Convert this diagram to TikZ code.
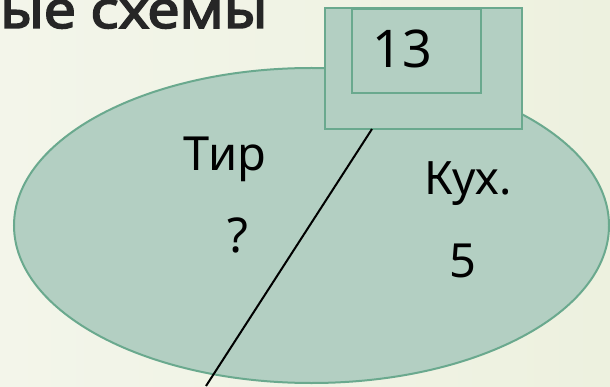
\documentclass[tikz,border=0pt]{standalone}
\usepackage{fontspec}
\usetikzlibrary{shapes.geometric}
\setmainfont{Noto Sans}
\newfontfamily\titlefont{Noto Sans}[FakeBold=3, FakeStretch=1.11]
\definecolor{bgA}{HTML}{F3F5EA}
\definecolor{bgB}{HTML}{EDF1DF}
\definecolor{shapefill}{HTML}{B3CFC2}
\definecolor{shapeline}{HTML}{6AA98E}
\definecolor{titlecol}{HTML}{262626}
\tikzset{
  shapestyle/.style={fill=shapefill, draw=shapeline, line width=2pt},
  lbl/.style={inner sep=0pt, anchor=base, text=black},
}
\begin{document}
\begin{tikzpicture}[x=1pt,y=1pt]
\useasboundingbox (0,0) rectangle (610,386);
\shade[left color=bgA, right color=bgB] (0,0) rectangle (610,386);
% title
\node[inner sep=0pt, anchor=base west, text=titlecol, font=\fontsize{52}{52}\titlefont] (title) at (0,358) {ые схемы};
% ellipse
\node[shapestyle, ellipse, minimum width=595pt, minimum height=315pt, inner sep=0pt] (ell) at (311.5,160.5) {};
% boxes
\node[shapestyle, rectangle, minimum width=197pt, minimum height=120.5pt, inner sep=0pt] (outer) at (423.5,317.25) {};
\node[draw=shapeline, line width=2pt, rectangle, minimum width=129pt, minimum height=84pt, inner sep=0pt] (inner) at (416.5,335) {};
% line
\coordinate (lt) at (372,257);
\coordinate (lb) at (206,0);
\draw[black, line width=2pt] (lt) -- (lb);
% labels
\node[lbl, font=\fontsize{52}{52}\selectfont] (n13) at (402,318) {13};
\node[lbl, font=\fontsize{47}{47}\selectfont] (tir) at (225,215) {Тир};
\node[lbl, font=\fontsize{48}{48}\selectfont] (q) at (237.5,134) {?};
\node[lbl, font=\fontsize{46}{46}\selectfont] (kuh) at (468,191) {Кух.};
\node[lbl, font=\fontsize{47}{47}\selectfont] (five) at (463,109) {5};
\end{tikzpicture}
\end{document}
